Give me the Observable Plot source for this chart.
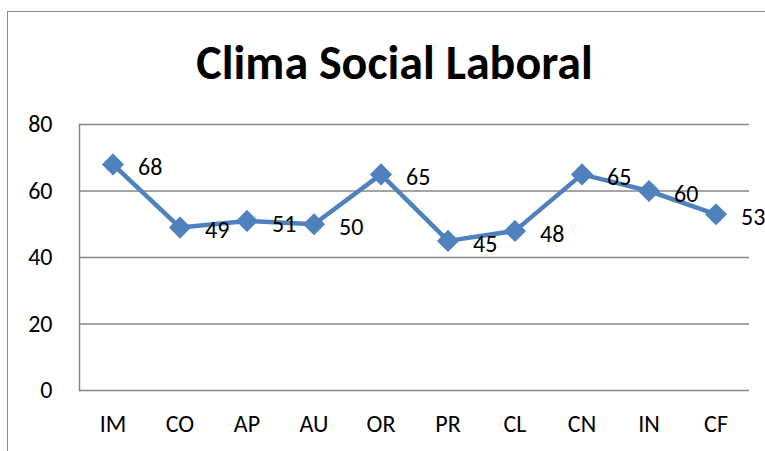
<!DOCTYPE html>
<html><head><meta charset="utf-8">
<script src="https://cdn.jsdelivr.net/npm/d3@7"></script>
<script src="https://cdn.jsdelivr.net/npm/@observablehq/plot@0.6"></script>
<style>
body{margin:0;background:#fff;}
#wrap{position:relative;width:765px;height:451px;overflow:hidden;}
#border{position:absolute;left:7px;top:11px;width:800px;height:500px;border:1.5px solid #8a8a8a;}
#chart{position:absolute;left:0;top:0;}
</style></head>
<body><div id="wrap"><div id="border"></div><div id="chart"></div></div>
<script>
const title = "Clima Social Laboral";
const categories = ["IM","CO","AP","AU","OR","PR","CL","CN","IN","CF"];
const values = [68,49,51,50,65,45,48,65,60,53];
const yTicks = [0,20,40,60,80];

const data = categories.map((c,i)=>({cat:c, v:values[i]}));
const font = "Carlito, Lato, 'Open Sans', sans-serif";
const blue = "#4F81BD";

const chart = Plot.plot({
  width: 765, height: 451,
  marginLeft: 79, marginRight: 16, marginTop: 124, marginBottom: 61,
  style: {fontFamily: font, fontSize: "24px", color: "#000", background: "transparent"},
  x: {type: "band", domain: categories, padding: 0, align: 0.5},
  y: {domain: [0,80]},
  marks: [
    Plot.gridY(yTicks, {stroke: "#868686", strokeOpacity: 1, strokeWidth: 1.5}),
    Plot.frame({anchor: "left", stroke: "#868686", strokeWidth: 1.5}),
    Plot.axisY(yTicks, {tickSize: 0, tickPadding: 27, fontSize: 24, label: null}),
    Plot.axisX({tickSize: 0, tickPadding: 24, fontSize: 24, label: null}),
    Plot.line(data, {x: "cat", y: "v", stroke: blue, strokeWidth: 4.5}),
    Plot.dot(data, {x: "cat", y: "v", symbol: "diamond2", r: 9, fill: blue, stroke: blue}),
    Plot.text(data, {x: "cat", y: "v", text: d => String(d.v), textAnchor: "start", dx: 25, dy: 3, fontSize: 24, fill: "#000"}),
    Plot.text([title], {frameAnchor: "top", text: d => d, dx: -20, dy: -80, fontSize: 48, fontWeight: "bold", fill: "#000"})
  ]
});
document.getElementById("chart").appendChild(chart);
</script></body></html>
